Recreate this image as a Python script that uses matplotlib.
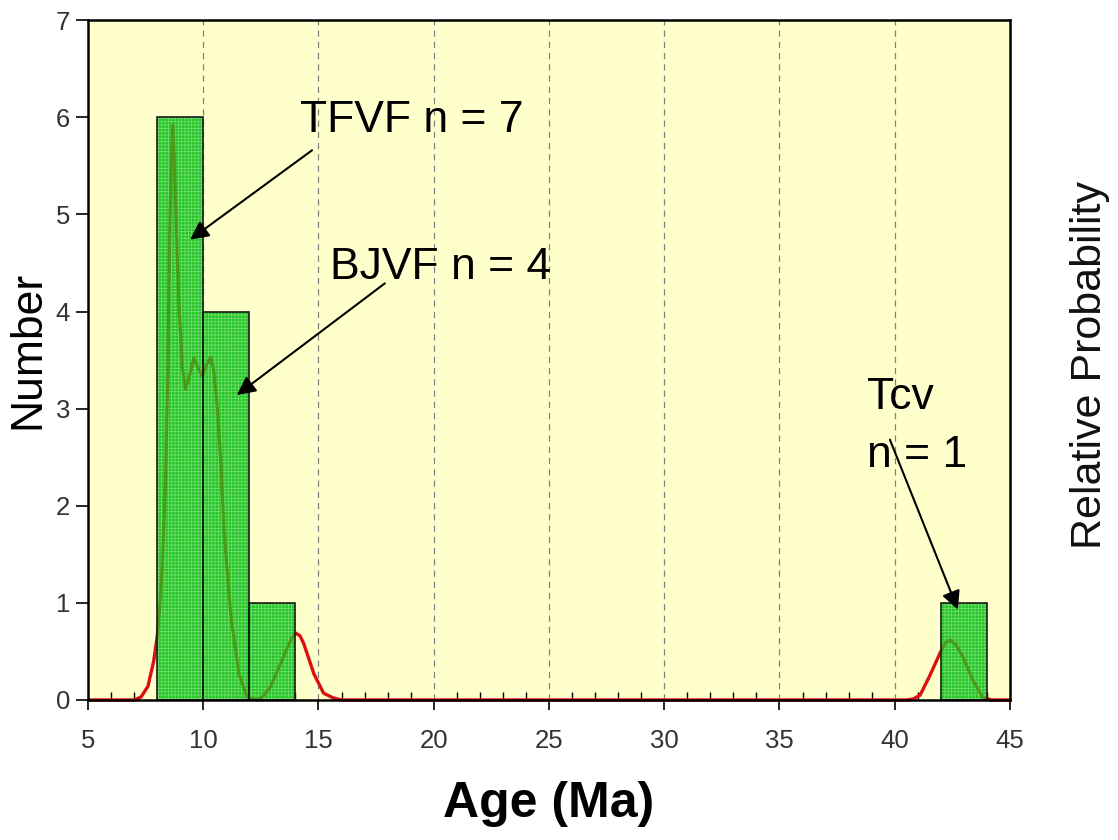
import matplotlib
matplotlib.use("Agg")
import matplotlib.pyplot as plt
from matplotlib.ticker import MultipleLocator
from matplotlib.path import Path

plt.rcParams['font.family'] = ['Liberation Sans', 'DejaVu Sans']
plt.rcParams['hatch.linewidth'] = 0.5

# Histogram data
bin_left = [8, 10, 12, 42]
counts = [6, 4, 1, 1]
bin_width = 2

# Relative probability curve (in "Number" scale)
prob_age = [5.0, 7.0, 7.3, 7.6, 7.85, 8.0, 8.1, 8.22, 8.36, 8.45, 8.55, 8.62, 8.68,
            8.74, 8.8, 8.94, 9.09, 9.23, 9.4, 9.59, 9.78, 9.96, 10.14, 10.32, 10.45,
            10.6, 10.75, 10.9, 11.2, 11.55, 11.9, 12.35, 12.6, 12.93, 13.36, 13.8,
            14.0, 14.2, 14.36, 14.8, 15.22, 15.65, 16.0,
            40.5, 40.8, 41.1, 41.5, 41.96, 42.2, 42.4, 42.65, 42.96, 43.4, 43.8, 44.2, 45.0]
prob_val = [0.0, 0.0, 0.03, 0.14, 0.4, 0.65, 0.9, 1.37, 2.23, 3.2, 4.9, 5.6, 5.92,
            5.6, 5.1, 4.1, 3.43, 3.2, 3.33, 3.52, 3.42, 3.33, 3.45, 3.53, 3.4,
            3.05, 2.5, 1.75, 0.86, 0.27, 0.03, 0.0, 0.04, 0.14, 0.38, 0.62,
            0.69, 0.66, 0.58, 0.27, 0.07, 0.02, 0.0,
            0.0, 0.01, 0.05, 0.24, 0.48, 0.59, 0.62, 0.57, 0.44, 0.2, 0.03, 0.0, 0.0]

x_ticks = [5, 10, 15, 20, 25, 30, 35, 40, 45]
y_ticks = [0, 1, 2, 3, 4, 5, 6, 7]

fig = plt.figure(figsize=(11.18, 8.4), dpi=100)
ax = fig.add_axes([0.0787, 0.1667, 0.9034 - 0.0787, 0.976 - 0.1667])
ax.set_facecolor('#ffffcc')
fig.patch.set_facecolor('white')

ax.set_xlim(5, 45)
ax.set_ylim(0, 7)

for xv in x_ticks[1:-1]:
    ax.axvline(xv, color='#808080', linestyle=(0, (5, 4)), linewidth=0.9, zorder=1)

ax.plot(prob_age, prob_val, color='#dd1010', linewidth=2.4, zorder=2, clip_on=False,
        solid_capstyle='butt')

bars = ax.bar(bin_left, counts, width=bin_width, align='edge', color='#26c426',
              edgecolor='#74e074', hatch='+++++', linewidth=0, zorder=3)

# curve seen through the bars (darker olive green)
clip = Path.make_compound_path(*[b.get_path().transformed(b.get_patch_transform())
                                 for b in bars])
inner, = ax.plot(prob_age, prob_val, color='#4c9a18', linewidth=2.2, zorder=3.5,
                 solid_capstyle='butt')
inner.set_clip_path(clip, ax.transData)

ax.bar(bin_left, counts, width=bin_width, align='edge', fill=False,
       edgecolor='#1a1a1a', linewidth=1.2, zorder=4)

for s in ax.spines.values():
    s.set_linewidth(1.8)
    s.set_color('black')
    s.set_zorder(5)

ax.set_xticks(x_ticks)
ax.set_yticks(y_ticks)
ax.xaxis.set_minor_locator(MultipleLocator(1))
ax.tick_params(axis='x', which='major', direction='out', length=7, width=1.2,
               labelsize=18.5, labelcolor='#333333', pad=14)
ax.tick_params(axis='x', which='minor', direction='in', length=6, width=1.0)
ax.tick_params(axis='y', which='major', direction='out', length=9, width=1.2,
               labelsize=18.5, labelcolor='#333333', pad=4)

ax.set_xlabel('Age (Ma)', fontsize=36, fontweight='bold', labelpad=20)
ax.set_ylabel('Number', fontsize=32)
ax.yaxis.set_label_coords(-0.043, 0.515)
fig.text(0.975, 0.565, 'Relative Probability', rotation=90, fontsize=31,
         ha='center', va='center', color='#111111')

arrow = dict(arrowstyle='-|>', color='black', linewidth=1.5, mutation_scale=28,
             shrinkA=0, shrinkB=0)
ax.text(14.2, 5.97, 'TFVF n = 7', fontsize=32, ha='left', va='center', zorder=6)
ax.annotate('', xy=(9.43, 4.74), xytext=(14.72, 5.66), arrowprops=arrow, zorder=6)
ax.text(15.5, 4.45, 'BJVF n = 4', fontsize=32, ha='left', va='center', zorder=6)
ax.annotate('', xy=(11.46, 3.14), xytext=(17.88, 4.29), arrowprops=arrow, zorder=6)
ax.text(38.8, 3.11, 'Tcv', fontsize=32, ha='left', va='center', zorder=6)
ax.text(38.8, 2.52, 'n = 1', fontsize=32, ha='left', va='center', zorder=6)
ax.annotate('', xy=(42.74, 0.93), xytext=(39.79, 2.68), arrowprops=arrow, zorder=6)

fig.savefig('out.png', dpi=100)
